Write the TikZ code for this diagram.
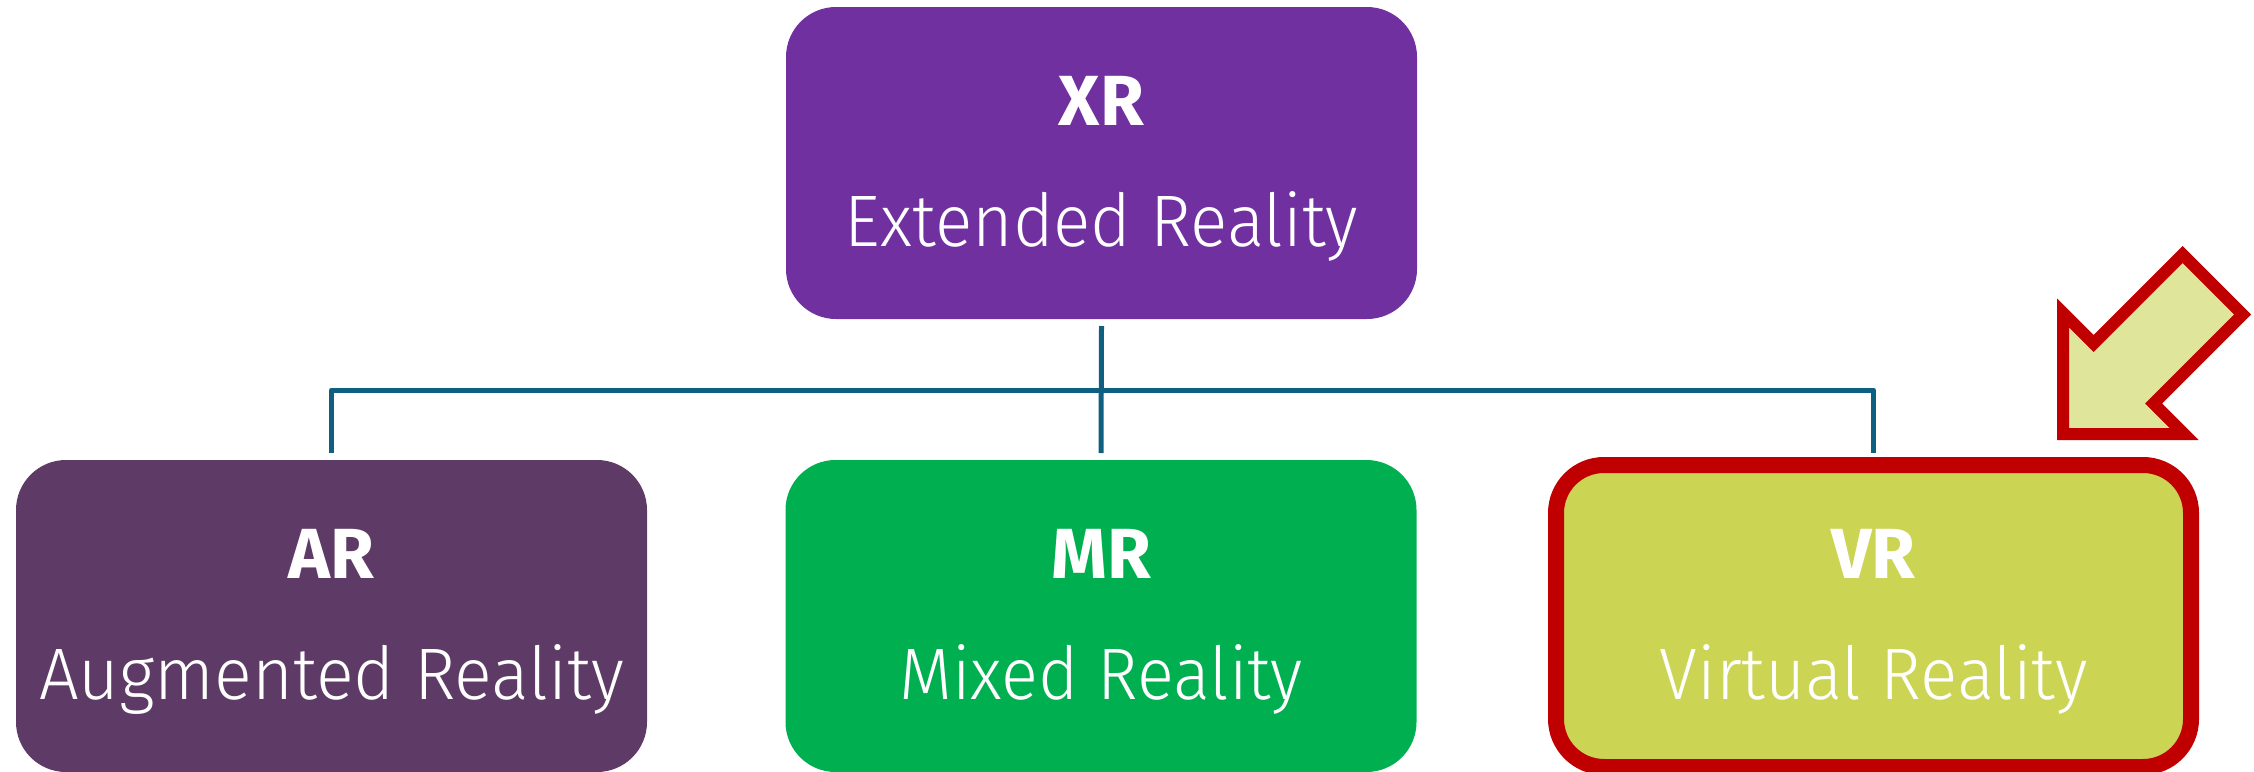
\documentclass[tikz,border=0pt]{standalone}
\usepackage{fontspec}
\usepackage{graphicx}
\setmainfont{Fira Sans}
\newfontfamily\lightf{Fira Sans Light}
\newfontfamily\boldf{Fira Sans}
\definecolor{xrpurple}{HTML}{7030A0}
\definecolor{arpurple}{HTML}{5E3A66}
\definecolor{mrgreen}{HTML}{00B050}
\definecolor{vrgreen}{HTML}{CCD454}
\definecolor{vrred}{HTML}{C00000}
\definecolor{arrowfill}{HTML}{DFE59A}
\definecolor{connblue}{HTML}{0F5F80}
\newcommand{\subw}[2]{\resizebox{#1}{\height}{#2}}
\tikzset{
  box/.style={rectangle, rounded corners=25pt, inner sep=0pt, outer sep=0pt,
    minimum width=315.5pt, minimum height=156pt},
  titletext/.style={anchor=base, inner sep=0pt, text=white,
    font=\boldf\bfseries\fontsize{35.5pt}{40pt}\selectfont},
  subtext/.style={anchor=base, inner sep=0pt, text=white,
    font=\lightf\fontsize{36.5pt}{40pt}\selectfont},
  conn/.style={draw=connblue, line width=2.5pt},
  callout/.style={draw=vrred, fill=arrowfill, line width=6pt, line join=miter}
}
\begin{document}
\begin{tikzpicture}[x=0.5pt,y=-0.5pt]
\useasboundingbox (0,0) rectangle (2254,771);
% boxes
\node[box, fill=xrpurple] (xr) at (1101.5,163) {};
\node[box, fill=arpurple] (ar) at (331.5,616) {};
\node[box, fill=mrgreen] (mr) at (1101,616) {};
\node[box, fill=vrgreen, draw=vrred, line width=8pt, rounded corners=24pt,
      minimum width=317.5pt, minimum height=151pt] (vr) at (1873.5,616) {};
% texts
\node[titletext] (xrt) at ([yshift=-59pt]xr.north) {XR};
\node[subtext] (xrs) at ([yshift=-119.5pt]xr.north) {\subw{256.5pt}{Extended Reality}};
\node[titletext] (art) at ([yshift=-59pt]ar.north) {AR};
\node[subtext] (ars) at ([yshift=-119.5pt]ar.north) {\subw{292.5pt}{Augmented Reality}};
\node[titletext] (mrt) at ([yshift=-59pt]mr.north) {MR};
\node[subtext] (mrs) at ([yshift=-119.5pt]mr.north) {\subw{201.75pt}{Mixed Reality}};
\node[titletext] (vrt) at ([yshift=-56.5pt]vr.north) {VR};
\node[subtext] (vrs) at ([yshift=-117pt]vr.north) {\subw{214pt}{Virtual Reality}};
% connectors
\coordinate (bus) at (0,390);
\draw[conn] ([yshift=-3.5pt]xr.south) -- ([yshift=3.5pt]mr.north);
\draw[conn, line join=round] ([yshift=3.5pt]ar.north) -- (ar.north |- bus) -- (vr.north |- bus) -- ([yshift=6pt]vr.north);
% callout arrow
\draw[callout] (2063,434) -- (2063,313) -- (2093.5,343.5) -- (2182.5,254.5)
  -- (2242.5,314.5) -- (2153.5,403.5) -- (2184,434) -- cycle;
\end{tikzpicture}
\end{document}
